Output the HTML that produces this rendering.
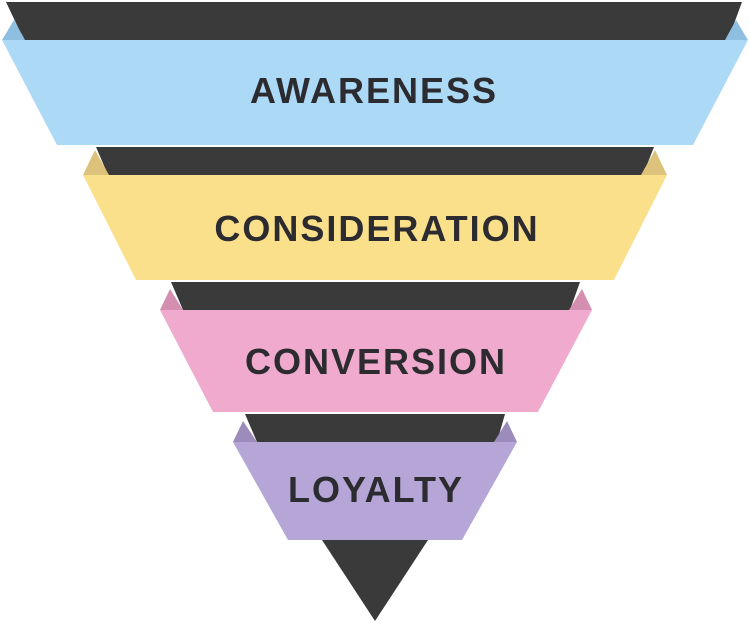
<!DOCTYPE html>
<html><head><style>
html,body{margin:0;padding:0;background:#fff;}
svg{display:block;}
text{font-family:"Liberation Sans",sans-serif;font-weight:bold;fill:#2b2b30;text-anchor:middle;letter-spacing:2px;}
</style></head><body>
<svg width="750" height="622" viewBox="0 0 750 622" xmlns="http://www.w3.org/2000/svg">
<polygon points="6,2 742,2 728,40 24,40" fill="#3a3a3a"/>
<polygon points="2,40 748,40 693,145 57,145" fill="#acd9f6"/>
<polygon points="2,40 14,20 25,40" fill="#8fbfe0"/>
<polygon points="748,40 736,20 725,40" fill="#8fbfe0"/>
<text x="374" y="103" font-size="36">AWARENESS</text>
<polygon points="96,147 654,147 643,175 108,175" fill="#3a3a3a"/>
<polygon points="83,175 667,175 614,280 136,280" fill="#fbe08b"/>
<polygon points="83,175 95,150 109,175" fill="#dcc27a"/>
<polygon points="667,175 655,150 641,175" fill="#dcc27a"/>
<text x="377" y="241" font-size="36">CONSIDERATION</text>
<polygon points="171,282 580,282 570,310 183,310" fill="#3a3a3a"/>
<polygon points="160,310 592,310 538,412 213,412" fill="#f0aace"/>
<polygon points="160,310 170,289 183,310" fill="#d48eb0"/>
<polygon points="592,310 582,289 569,310" fill="#d48eb0"/>
<text x="376" y="374" font-size="36">CONVERSION</text>
<polygon points="245,414 505,414 497,442 257,442" fill="#3a3a3a"/>
<polygon points="233,442 517,442 462,540 288,540" fill="#b5a6d7"/>
<polygon points="233,442 243,421 257,442" fill="#9b8cbb"/>
<polygon points="517,442 507,421 494,442" fill="#9b8cbb"/>
<text x="376" y="502" font-size="36">LOYALTY</text>
<polygon points="322,540 428,540 375,621" fill="#3a3a3a"/>
</svg>
</body></html>
